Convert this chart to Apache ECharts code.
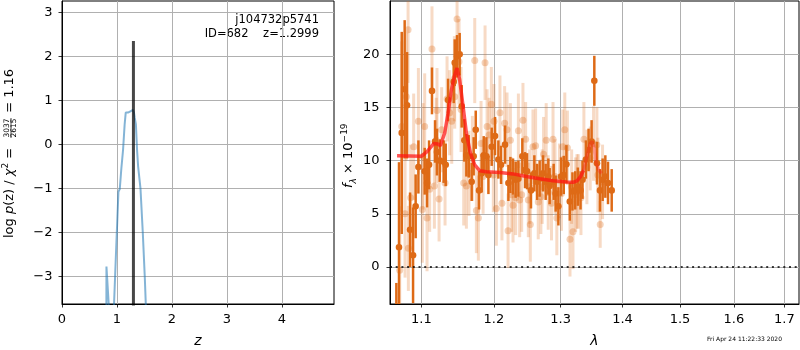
<!DOCTYPE html>
<html><head><meta charset="utf-8">
<script src="https://cdn.jsdelivr.net/npm/echarts@6/dist/echarts.min.js"></script>
<style>html,body{margin:0;padding:0;background:#fff}#c{width:800px;height:350px}</style>
</head><body><div id="c"></div>
<script>
// ---------------- data ----------------
// left panel: log p(z)
const pzZ   = [0.806, 0.809, 0.813, 0.850, 0.900, 0.947, 0.985, 1.027, 1.051, 1.080, 1.111, 1.140, 1.160, 1.180, 1.200, 1.220, 1.245, 1.270, 1.290, 1.310, 1.324, 1.345, 1.366, 1.385, 1.428, 1.470, 1.506, 1.530];
const pzLog = [-5.0, -2.78, -2.80, -3.63, -5.1, -3.63, -2.4, -1.08, -1.02, -0.55, -0.13, 0.45, 0.72, 0.68, 0.72, 0.68, 0.75, 0.72, 0.78, 0.72, 0.60, 0.45, -0.13, -0.5, -1.0, -2.0, -3.0, -3.8];
const zBest = 1.2999;
const zBestRange = [-10, 2.35];
const pzXTicks = [0, 1, 2, 3, 4];
const pzYTicks = [-3, -2, -1, 0, 1, 2, 3];

// right panel: spectrum
const specXTicks = [1.1, 1.2, 1.3, 1.4, 1.5, 1.6, 1.7];
const specYTicks = [0, 5, 10, 15, 20];

const darkLam  = [1.0675,1.0709,1.0744,1.0782,1.0813,1.0852,1.0891,1.0925,1.0961,1.1044,1.1075,1.1102,1.1141,1.1182,1.1208,1.1245,1.1298,1.1326,1.1358,1.1435,1.1449,1.1481,1.1517,1.1545,1.1582,1.1610,1.1643,1.1684,1.1712,1.1741,1.1788,1.1825,1.1854,1.1892,1.1921,1.1968,1.2016,1.2064,1.2103,1.2161,1.2210,1.2239,1.2278,1.2317,1.2357,1.2416,1.2456,1.2486,1.2545,1.2596,1.2636,1.2676,1.2728,1.2768,1.2809,1.2829,1.2891,1.2922,1.2964,1.3006,1.3048,1.3090,1.3143,1.3185,1.3228,1.3270,1.3313,1.3345,1.3399,1.3442,1.3491,1.3535,1.3578,1.3627,1.3671,1.3715,1.3759,1.3820];
const darkFlux = [-5.5,1.85,12.6,16.7,15.2,3.5,1.1,5.7,9.4,9.0,7.9,9.6,16.55,11.8,10.8,10.0,9.9,9.6,15.7,17.4,19.2,19.8,20.0,15.1,11.9,10.5,10.4,8.0,10.4,12.9,7.2,8.8,10.5,10.4,8.65,11.3,12.3,10.1,9.6,11.5,7.9,8.65,8.5,8.2,8.3,10.4,9.1,9.0,7.2,8.8,8.0,8.3,8.8,8.0,8.5,7.6,8.0,6.9,5.7,8.5,8.65,9.65,6.15,7.1,7.2,7.55,7.2,8.2,10.1,11.0,11.8,17.5,9.75,7.2,8.2,8.5,7.9,7.2];
const darkErr  = [4.0,8.0,9.5,6.5,5.0,3.5,4.5,3.0,2.5,2.2,2.3,2.3,2.2,2.0,2.2,2.0,2.0,2.0,2.0,2.0,2.2,2.0,2.0,2.0,2.0,2.0,2.0,1.8,1.8,1.8,1.8,1.8,1.8,1.8,1.8,1.8,1.8,1.8,1.8,1.8,1.7,1.7,1.7,1.7,1.7,1.7,1.7,1.7,1.7,1.7,1.7,1.7,1.7,1.7,1.7,1.7,1.7,1.7,1.8,1.8,1.8,1.8,1.8,1.8,1.8,1.8,1.8,1.8,1.8,2.0,2.0,2.35,2.0,2.0,2.0,2.0,2.0,2.0];

const lightLam  = [1.0718,1.0744,1.0787,1.0804,1.0826,1.0830,1.0860,1.0899,1.0961,1.1013,1.1022,1.1044,1.1075,1.1110,1.1141,1.1173,1.1198,1.1208,1.1236,1.1271,1.1317,1.1344,1.1380,1.1408,1.1444,1.1449,1.1481,1.1508,1.1536,1.1573,1.1610,1.1647,1.1694,1.1727,1.1750,1.1778,1.1816,1.1845,1.1873,1.1902,1.1930,1.1963,1.1991,1.2001,1.2035,1.2087,1.2116,1.2155,1.2190,1.2205,1.2239,1.2258,1.2278,1.2317,1.2357,1.2376,1.2406,1.2425,1.2465,1.2505,1.2525,1.2535,1.2575,1.2615,1.2655,1.2695,1.2715,1.2736,1.2776,1.2807,1.2858,1.2881,1.2912,1.2940,1.2981,1.3012,1.3033,1.3064,1.3105,1.3146,1.3172,1.3193,1.3235,1.3256,1.3277,1.3320,1.3367,1.3415,1.3469,1.3523,1.3577,1.3593,1.3631,1.3669];
const lightFlux = [-0.3,13.2,5.0,16.0,22.3,1.75,6.5,11.3,13.7,5.4,10.4,13.2,4.6,7.3,20.5,7.6,11.9,14.7,6.4,12.9,7.9,15.8,14.5,13.7,17.7,16.0,23.3,19.3,14.8,7.9,7.6,8.8,10.2,19.4,5.3,4.6,11.6,8.5,19.2,13.2,12.4,15.3,8.65,13.7,5.5,14.5,6.0,13.5,12.9,3.4,11.9,6.8,5.8,6.5,12.8,6.3,6.8,13.8,12.0,6.3,7.55,4.0,11.3,11.4,6.1,6.6,7.55,10.6,11.9,7.0,6.0,12.0,8.5,4.6,8.1,6.9,11.3,12.9,11.2,2.6,7.55,3.3,6.8,7.1,7.1,6.5,12.0,9.4,10.2,11.6,11.5,8.65,4.0,8.0];
const lightErr  = [6,8,6,6,5,4,5,5,5,5,5,5,5,4,4,4,4,4,4,4,4,4,4,4,4,3,4,4,4,4,4,4,4,4,4,4,4,3.5,3.5,3.5,3.5,3.5,3.5,3.5,3.5,3.5,3.5,3.5,3.5,3.5,3.5,3.5,3.5,3.5,3.5,3.5,3.5,3.5,3.5,3.5,3.5,3.5,3.5,3.5,3.5,3.5,3.5,3.5,3.5,3.5,3.5,3.5,3.5,3.5,3.5,3.5,3.5,3.5,3.5,3.5,3.5,3.5,3.5,3.5,3.5,3.5,3.5,3.5,3,3.5,3.5,3.5,2.2,3.5];

const modelLam   = [1.0684,1.1000,1.1075,1.1164,1.1222,1.1254,1.1312,1.1358,1.1402,1.1449,1.1481,1.1517,1.1564,1.1610,1.1666,1.1727,1.1797,1.1892,1.2087,1.2278,1.2476,1.2676,1.2881,1.3090,1.3193,1.3256,1.3313,1.3362];
const modelFlux  = [10.45,10.4,10.85,11.6,11.55,11.4,12.6,14.45,16.6,18.05,18.7,17.6,15.1,12.6,10.7,9.6,9.05,8.95,8.87,8.75,8.5,8.3,8.1,7.99,7.96,8.1,8.5,9.1];
const model2Lam  = [1.3362,1.3415,1.3469,1.3501,1.3533,1.3566,1.3609,1.3653];
const model2Flux = [9.1,10.4,11.6,11.8,11.2,9.75,9.1,8.8];

// ---------------- chart ----------------
const FONT = 'DejaVu Sans';
const zip2 = (a, b) => a.map((v, i) => [v, b[i]]);
const zip3 = (a, b, c) => a.map((v, i) => [v, b[i], c[i]]);

function errRender(barColor, lw, r, dotColor) {
  return function (params, api) {
    const x = api.value(0), y = api.value(1), e = api.value(2);
    const p0 = api.coord([x, y - e]), p1 = api.coord([x, y + e]), pc = api.coord([x, y]);
    return {type: 'group', children: [
      {type: 'line', shape: {x1: p0[0], y1: p0[1], x2: p1[0], y2: p1[1]}, style: {stroke: barColor, lineWidth: lw}},
      {type: 'circle', shape: {cx: pc[0], cy: pc[1], r: r}, style: {fill: dotColor}}
    ]};
  };
}

const tickStyle = {show: true, inside: false, length: 3.5, lineStyle: {color: '#000', width: 0.8}};
const splitStyle = {show: true, lineStyle: {color: '#b0b0b0', width: 1}};
const labelStyle = {color: '#000', fontSize: 13, fontFamily: FONT};

const chart = echarts.init(document.getElementById('c'), null, {renderer: 'canvas'});
chart.setOption({
  animation: false,
  backgroundColor: '#fff',
  grid: [
    {left: 62, top: 1, width: 272, height: 303, show: true, borderColor: '#000', borderWidth: 1, containLabel: false, outerBoundsMode: 'none'},
    {left: 390, top: 1, width: 409, height: 303, show: true, borderColor: '#000', borderWidth: 1, containLabel: false, outerBoundsMode: 'none'}
  ],
  xAxis: [
    {gridIndex: 0, type: 'value', min: 0, max: 4.95,
     axisLine: {show: true, onZero: false, lineStyle: {color: '#000', width: 1}},
     axisTick: Object.assign({customValues: pzXTicks}, tickStyle),
     axisLabel: Object.assign({customValues: pzXTicks, margin: 9}, labelStyle),
     splitLine: splitStyle,
     name: 'z', nameLocation: 'middle', nameGap: 30,
     nameTextStyle: {fontStyle: 'italic', fontSize: 14, color: '#000', fontFamily: FONT}},
    {gridIndex: 1, type: 'log', logBase: 10, min: 1.0594, max: 1.730,
     axisLine: {show: true, onZero: false, lineStyle: {color: '#000', width: 1}},
     axisTick: Object.assign({customValues: specXTicks}, tickStyle),
     axisLabel: Object.assign({customValues: specXTicks, margin: 9, formatter: v => Number(v).toFixed(1)}, labelStyle),
     splitLine: splitStyle,
     name: 'λ', nameLocation: 'middle', nameGap: 30,
     nameTextStyle: {fontStyle: 'italic', fontSize: 14, color: '#000', fontFamily: FONT}}
  ],
  yAxis: [
    {gridIndex: 0, type: 'value', min: -3.63, max: 3.257,
     axisLine: {show: true, onZero: false, lineStyle: {color: '#000', width: 1}},
     axisTick: Object.assign({customValues: pzYTicks}, tickStyle),
     axisLabel: Object.assign({customValues: pzYTicks, margin: 9.5, formatter: v => (v < 0 ? '\u2212' + Math.abs(v) : String(v))}, labelStyle),
     splitLine: splitStyle},
    {gridIndex: 1, type: 'value', min: -3.48, max: 25.0,
     axisLine: {show: true, onZero: false, lineStyle: {color: '#000', width: 1}},
     axisTick: Object.assign({customValues: specYTicks}, tickStyle),
     axisLabel: Object.assign({customValues: specYTicks, margin: 10.5}, labelStyle),
     splitLine: splitStyle}
  ],
  series: [
    {type: 'line', xAxisIndex: 0, yAxisIndex: 0, data: zip2(pzZ, pzLog), showSymbol: false, clip: true,
     lineStyle: {color: 'rgba(31,119,180,0.55)', width: 2}, z: 3},
    {type: 'line', xAxisIndex: 0, yAxisIndex: 0, data: [[zBest, zBestRange[0]], [zBest, zBestRange[1]]], showSymbol: false, clip: true,
     lineStyle: {color: 'rgba(0,0,0,0.72)', width: 3}, z: 4},
    {type: 'custom', xAxisIndex: 1, yAxisIndex: 1, data: zip3(lightLam, lightFlux, lightErr), clip: true,
     encode: {x: 0, y: 1}, renderItem: errRender('rgba(222,106,22,0.25)', 3, 3.5, 'rgba(222,106,22,0.3)'), z: 2},
    {type: 'custom', xAxisIndex: 1, yAxisIndex: 1, data: zip3(darkLam, darkFlux, darkErr), clip: true,
     encode: {x: 0, y: 1}, renderItem: errRender('rgb(222,106,22)', 2.5, 3.3, 'rgb(222,106,22)'), z: 3},
    {type: 'line', xAxisIndex: 1, yAxisIndex: 1, data: zip2(modelLam, modelFlux), showSymbol: false, clip: true,
     lineStyle: {color: 'rgba(255,20,20,0.72)', width: 3.5}, z: 4,
     markLine: {silent: true, symbol: 'none', label: {show: false}, animation: false,
       lineStyle: {color: '#000', type: [2, 3.7], width: 1.6}, data: [{yAxis: 0}]}},
    {type: 'line', xAxisIndex: 1, yAxisIndex: 1, data: zip2(model2Lam, model2Flux), showSymbol: false, clip: true,
     lineStyle: {color: 'rgba(255,20,20,0.35)', width: 3.5}, z: 4}
  ],
  graphic: [
    {type: 'text', x: 319, y: 20, style: {text: 'j104732p5741', fontSize: 11.5, fontFamily: FONT, fill: '#000', align: 'right', verticalAlign: 'middle'}},
    {type: 'text', x: 319, y: 34, style: {text: 'ID=682    z=1.2999', fontSize: 11.5, fontFamily: FONT, fill: '#000', align: 'right', verticalAlign: 'middle'}},
    {type: 'text', x: 744.5, y: 339, style: {text: 'Fri Apr 24 11:22:33 2020', fontSize: 6, fontFamily: FONT, fill: '#000', align: 'center', verticalAlign: 'middle'}},
    {type: 'group', x: 10, y: 238, rotation: Math.PI / 2, children: [
      {type: 'text', x: 0, y: 0, style: {
        text: '{n|log }{i|p}{n|(z) / }{i|χ}{s|2}{n| =}', align: 'left', verticalAlign: 'middle', fill: '#000',
        rich: {n: {fontSize: 13, fontFamily: FONT, lineHeight: 18, verticalAlign: 'middle'},
               i: {fontSize: 13, fontFamily: FONT, fontStyle: 'italic', lineHeight: 18, verticalAlign: 'middle'},
               s: {fontSize: 9, fontFamily: FONT, lineHeight: 9, verticalAlign: 'top'}}}},
      {type: 'text', x: 110, y: -2.5, style: {text: '3037', fontSize: 7.5, fontFamily: FONT, fill: '#000', align: 'center', verticalAlign: 'middle'}},
      {type: 'text', x: 110, y: 4.5, style: {text: '2615', fontSize: 7.5, fontFamily: FONT, fill: '#000', align: 'center', verticalAlign: 'middle'}},
      {type: 'line', shape: {x1: 100, y1: 1, x2: 120, y2: 1}, style: {stroke: '#000', lineWidth: 0.7}},
      {type: 'text', x: 121, y: 0, style: {text: ' = 1.16', fontSize: 13, fontFamily: FONT, fill: '#000', align: 'left', verticalAlign: 'middle'}}
    ]},
    {type: 'group', x: 349, y: 188, rotation: Math.PI / 2, children: [
      {type: 'text', x: 0, y: 0, style: {
        text: '{i|f}{sub|λ}{n| × 10}{sup|−19}', align: 'left', verticalAlign: 'middle', fill: '#000',
        rich: {n: {fontSize: 13, fontFamily: FONT, lineHeight: 18, verticalAlign: 'middle'},
               i: {fontSize: 13, fontFamily: FONT, fontStyle: 'italic', lineHeight: 18, verticalAlign: 'middle'},
               sub: {fontSize: 9, fontFamily: FONT, fontStyle: 'italic', lineHeight: 9, verticalAlign: 'bottom'},
               sup: {fontSize: 9, fontFamily: FONT, lineHeight: 9, verticalAlign: 'top'}}}}
    ]}
  ]
});
</script>
</body></html>
